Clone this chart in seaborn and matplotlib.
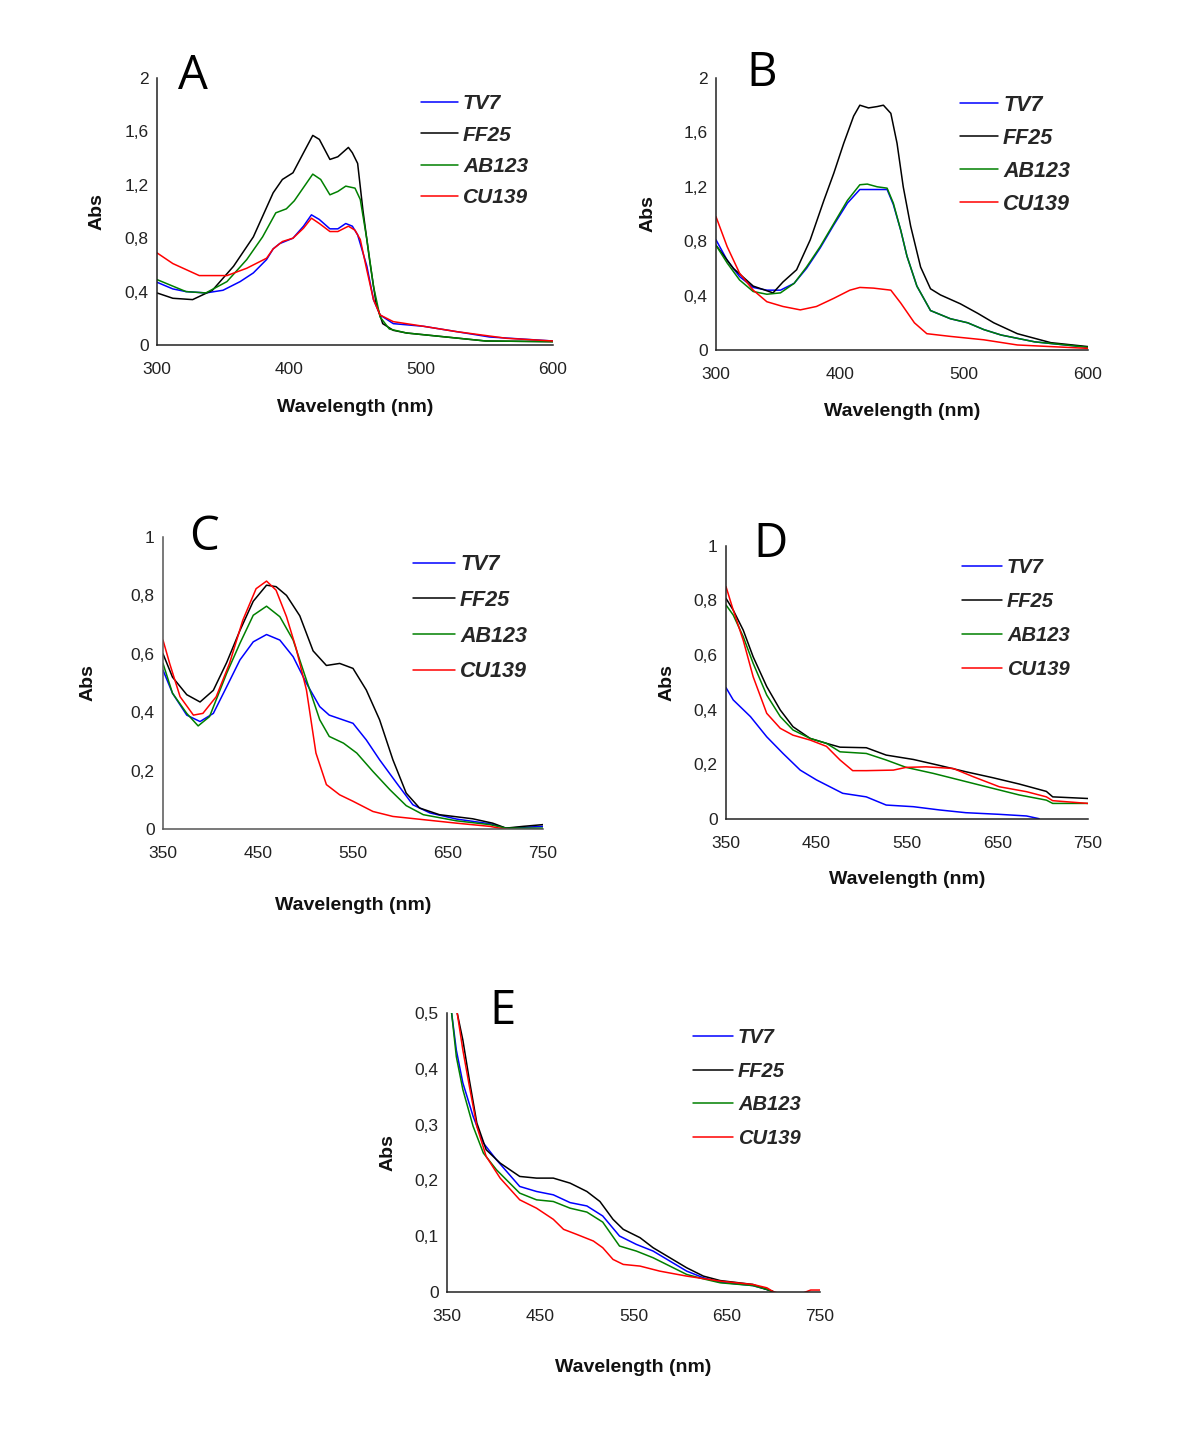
import numpy as np
import pandas as pd
import matplotlib
matplotlib.use("Agg")
import matplotlib.pyplot as plt
from matplotlib.ticker import FuncFormatter
import seaborn as sns

sns.set_style("white")
plt.rcParams['font.family'] = ['Liberation Sans', 'DejaVu Sans']

series_names = ["TV7", "FF25", "AB123", "CU139"]
series_colors = ["#0000ff", "#000000", "#008000", "#ff0000"]

# ---------------- Panel A ----------------
A_TV7_wl = [300, 312, 322, 337, 350, 363, 373, 383, 388, 393, 403, 411, 417, 423, 431, 437, 443, 448, 452, 459, 464, 469, 479, 502, 527, 552, 600]
A_TV7 = [0.47, 0.42, 0.40, 0.39, 0.41, 0.475, 0.54, 0.64, 0.72, 0.76, 0.80, 0.89, 0.975, 0.94, 0.87, 0.87, 0.91, 0.89, 0.825, 0.59, 0.34, 0.225, 0.16, 0.14, 0.10, 0.06, 0.03]
A_FF25_wl = [300, 312, 327, 342, 358, 373, 388, 395, 403, 411, 418, 423, 431, 437, 445, 448, 452, 456, 461, 466, 471, 479, 489, 519, 549, 600]
A_FF25 = [0.39, 0.35, 0.34, 0.41, 0.59, 0.81, 1.14, 1.24, 1.29, 1.44, 1.57, 1.54, 1.39, 1.41, 1.48, 1.44, 1.36, 1.01, 0.64, 0.31, 0.16, 0.11, 0.09, 0.06, 0.03, 0.025]
A_AB123_wl = [300, 322, 337, 353, 368, 380, 390, 398, 404, 418, 424, 431, 437, 443, 450, 454, 459, 464, 469, 476, 489, 519, 549, 600]
A_AB123 = [0.49, 0.40, 0.39, 0.475, 0.64, 0.81, 0.99, 1.02, 1.08, 1.28, 1.24, 1.125, 1.15, 1.19, 1.175, 1.09, 0.79, 0.44, 0.21, 0.12, 0.09, 0.06, 0.03, 0.025]
A_CU139_wl = [300, 312, 332, 353, 368, 383, 388, 395, 403, 411, 417, 423, 431, 437, 445, 450, 454, 459, 464, 469, 479, 502, 527, 565, 600]
A_CU139 = [0.69, 0.61, 0.52, 0.52, 0.575, 0.65, 0.72, 0.775, 0.80, 0.875, 0.95, 0.91, 0.85, 0.85, 0.89, 0.86, 0.79, 0.56, 0.34, 0.225, 0.175, 0.14, 0.10, 0.05, 0.03]

# ---------------- Panel B ----------------
B_TV7_wl = [300, 309, 319, 330, 341, 352, 363, 373, 384, 395, 406, 416, 422, 430, 438, 443, 449, 454, 462, 473, 489, 503, 516, 530, 557, 584, 600]
B_TV7 = [0.81, 0.66, 0.54, 0.46, 0.44, 0.44, 0.49, 0.60, 0.75, 0.92, 1.08, 1.18, 1.18, 1.18, 1.18, 1.07, 0.88, 0.69, 0.47, 0.29, 0.23, 0.20, 0.15, 0.11, 0.06, 0.035, 0.02]
B_FF25_wl = [300, 314, 330, 346, 354, 365, 376, 387, 395, 403, 411, 416, 423, 430, 435, 441, 446, 451, 457, 465, 473, 481, 497, 511, 524, 543, 570, 600]
B_FF25 = [0.77, 0.60, 0.47, 0.42, 0.50, 0.59, 0.81, 1.10, 1.30, 1.52, 1.72, 1.80, 1.78, 1.79, 1.80, 1.74, 1.52, 1.20, 0.91, 0.61, 0.45, 0.405, 0.34, 0.27, 0.20, 0.12, 0.054, 0.025]
B_AB123_wl = [300, 309, 319, 330, 341, 352, 363, 373, 384, 395, 406, 416, 422, 430, 438, 443, 449, 454, 462, 473, 489, 503, 516, 530, 557, 584, 600]
B_AB123 = [0.77, 0.64, 0.515, 0.43, 0.41, 0.42, 0.49, 0.61, 0.76, 0.93, 1.10, 1.215, 1.22, 1.20, 1.19, 1.08, 0.88, 0.69, 0.47, 0.29, 0.23, 0.20, 0.15, 0.11, 0.06, 0.035, 0.02]
B_CU139_wl = [300, 309, 319, 330, 341, 354, 368, 381, 395, 408, 416, 427, 441, 449, 460, 470, 489, 516, 543, 570, 600]
B_CU139 = [0.98, 0.76, 0.565, 0.44, 0.355, 0.32, 0.295, 0.32, 0.38, 0.44, 0.46, 0.455, 0.44, 0.345, 0.20, 0.12, 0.10, 0.075, 0.037, 0.025, 0.012]

# ---------------- Panel C ----------------
C_TV7_wl = [350, 360, 375, 389, 403, 417, 431, 445, 459, 473, 487, 501, 515, 525, 550, 564, 578, 596, 613, 631, 659, 694, 711, 750]
C_TV7 = [0.544, 0.465, 0.39, 0.368, 0.396, 0.487, 0.579, 0.641, 0.666, 0.647, 0.59, 0.499, 0.419, 0.39, 0.362, 0.305, 0.237, 0.157, 0.083, 0.055, 0.034, 0.018, 0.003, 0.009]
C_FF25_wl = [350, 360, 375, 389, 403, 417, 431, 445, 459, 469, 480, 494, 508, 522, 536, 550, 564, 578, 592, 606, 620, 641, 676, 697, 711, 729, 750]
C_FF25 = [0.60, 0.52, 0.46, 0.435, 0.475, 0.57, 0.68, 0.78, 0.835, 0.83, 0.80, 0.73, 0.61, 0.56, 0.567, 0.55, 0.476, 0.374, 0.237, 0.123, 0.072, 0.049, 0.035, 0.02, 0.003, 0.009, 0.015]
C_AB123_wl = [350, 360, 375, 387, 399, 417, 431, 445, 459, 473, 487, 501, 515, 525, 540, 554, 571, 589, 606, 624, 659, 694, 711, 750]
C_AB123 = [0.567, 0.465, 0.396, 0.353, 0.385, 0.533, 0.636, 0.732, 0.763, 0.727, 0.647, 0.51, 0.374, 0.317, 0.294, 0.26, 0.197, 0.134, 0.08, 0.049, 0.028, 0.015, 0.003, 0.003]
C_CU139_wl = [350, 357, 368, 382, 392, 406, 420, 434, 448, 459, 469, 480, 490, 501, 511, 522, 536, 550, 571, 592, 624, 659, 694, 704, 730, 750]
C_CU139 = [0.647, 0.567, 0.453, 0.39, 0.396, 0.453, 0.567, 0.715, 0.823, 0.849, 0.818, 0.727, 0.62, 0.476, 0.26, 0.152, 0.117, 0.095, 0.06, 0.043, 0.032, 0.02, 0.009, 0.003, -0.01, -0.01]

# ---------------- Panel D ----------------
D_TV7_wl = [350, 358, 377, 395, 413, 432, 450, 479, 505, 527, 557, 586, 615, 652, 682, 696]
D_TV7 = [0.48, 0.435, 0.374, 0.30, 0.239, 0.178, 0.142, 0.093, 0.08, 0.05, 0.044, 0.032, 0.022, 0.016, 0.01, 0.0]
D_FF25_wl = [350, 358, 369, 380, 395, 410, 424, 443, 461, 476, 505, 527, 557, 586, 615, 645, 674, 704, 711, 750]
D_FF25 = [0.807, 0.764, 0.691, 0.593, 0.484, 0.398, 0.337, 0.294, 0.276, 0.262, 0.26, 0.233, 0.217, 0.195, 0.172, 0.15, 0.127, 0.10, 0.08, 0.074]
D_AB123_wl = [350, 358, 369, 380, 395, 410, 424, 443, 461, 476, 505, 527, 549, 579, 615, 645, 674, 704, 711, 750]
D_AB123 = [0.783, 0.746, 0.667, 0.569, 0.453, 0.374, 0.325, 0.294, 0.276, 0.245, 0.239, 0.215, 0.188, 0.166, 0.136, 0.111, 0.087, 0.068, 0.056, 0.056]
D_CU139_wl = [350, 358, 369, 380, 395, 410, 424, 443, 461, 476, 490, 505, 535, 549, 571, 601, 623, 652, 682, 704, 711, 750]
D_CU139 = [0.85, 0.764, 0.654, 0.52, 0.386, 0.331, 0.306, 0.288, 0.265, 0.215, 0.176, 0.176, 0.178, 0.188, 0.19, 0.184, 0.154, 0.117, 0.099, 0.08, 0.066, 0.056]

# ---------------- Panel E ----------------
E_TV7_wl = [350, 355, 360, 367, 378, 389, 403, 428, 446, 464, 482, 500, 517, 535, 553, 571, 589, 607, 625, 643, 678, 693, 700]
E_TV7 = [0.56, 0.50, 0.434, 0.375, 0.315, 0.267, 0.237, 0.189, 0.18, 0.174, 0.16, 0.154, 0.136, 0.10, 0.085, 0.073, 0.055, 0.037, 0.025, 0.017, 0.011, 0.004, 0.0]
E_FF25_wl = [356, 361, 367, 374, 382, 392, 407, 428, 446, 464, 482, 500, 514, 528, 539, 557, 571, 589, 607, 625, 643, 678, 693, 700]
E_FF25 = [0.58, 0.50, 0.452, 0.38, 0.303, 0.255, 0.231, 0.207, 0.204, 0.204, 0.195, 0.18, 0.162, 0.13, 0.112, 0.097, 0.079, 0.061, 0.043, 0.028, 0.02, 0.013, 0.004, 0.0]
E_AB123_wl = [350, 355, 360, 367, 378, 389, 403, 428, 446, 464, 482, 500, 517, 535, 553, 571, 589, 607, 625, 643, 678, 693, 700]
E_AB123 = [0.56, 0.50, 0.422, 0.363, 0.297, 0.249, 0.219, 0.177, 0.165, 0.162, 0.15, 0.143, 0.125, 0.082, 0.073, 0.061, 0.046, 0.031, 0.023, 0.016, 0.011, 0.004, 0.0]
E_CU139_wl = [355, 361, 367, 374, 382, 392, 407, 428, 446, 464, 475, 489, 507, 517, 528, 539, 557, 578, 607, 643, 678, 693, 700, 720, 740, 750]
E_CU139 = [0.58, 0.50, 0.434, 0.369, 0.297, 0.243, 0.204, 0.165, 0.15, 0.13, 0.112, 0.103, 0.091, 0.079, 0.058, 0.049, 0.046, 0.037, 0.028, 0.019, 0.013, 0.007, 0.0, -0.01, 0.003, 0.003]

panels = {
    "A": [(A_TV7_wl, A_TV7), (A_FF25_wl, A_FF25), (A_AB123_wl, A_AB123), (A_CU139_wl, A_CU139)],
    "B": [(B_TV7_wl, B_TV7), (B_FF25_wl, B_FF25), (B_AB123_wl, B_AB123), (B_CU139_wl, B_CU139)],
    "C": [(C_TV7_wl, C_TV7), (C_FF25_wl, C_FF25), (C_AB123_wl, C_AB123), (C_CU139_wl, C_CU139)],
    "D": [(D_TV7_wl, D_TV7), (D_FF25_wl, D_FF25), (D_AB123_wl, D_AB123), (D_CU139_wl, D_CU139)],
    "E": [(E_TV7_wl, E_TV7), (E_FF25_wl, E_FF25), (E_AB123_wl, E_AB123), (E_CU139_wl, E_CU139)],
}

W, H = 1200, 1442
# layout in pixels: left, top, right, bottom
layout = {
    "A": dict(box=(157, 78, 553, 345), xlim=(300, 600), xt=[300, 400, 500, 600], ylim=(0, 2), yt=[0, 0.4, 0.8, 1.2, 1.6, 2],
              xlab_y=408, ylab_x=97, letter=(193, 76), leg=(421, 103.5, 30.9, 37, 15), spine="#222222"),
    "B": dict(box=(716, 78, 1088, 350), xlim=(300, 600), xt=[300, 400, 500, 600], ylim=(0, 2), yt=[0, 0.4, 0.8, 1.2, 1.6, 2],
              xlab_y=412, ylab_x=648, letter=(762, 73), leg=(960, 104.3, 31.2, 38, 15.5), spine="#222222"),
    "C": dict(box=(163, 537, 543, 829), xlim=(350, 750), xt=[350, 450, 550, 650, 750], ylim=(0, 1), yt=[0, 0.2, 0.4, 0.6, 0.8, 1],
              xlab_y=905, ylab_x=88, letter=(204, 537), leg=(413, 564, 33.7, 42, 15.5), spine="#555555"),
    "D": dict(box=(726, 545.7, 1088, 818.7), xlim=(350, 750), xt=[350, 450, 550, 650, 750], ylim=(0, 1), yt=[0, 0.2, 0.4, 0.6, 0.8, 1],
              xlab_y=880, ylab_x=667, letter=(771, 544), leg=(962, 567, 32.9, 40, 14.5), spine="#222222"),
    "E": dict(box=(447, 1013.3, 820, 1291.7), xlim=(350, 750), xt=[350, 450, 550, 650, 750], ylim=(0, 0.5), yt=[0, 0.1, 0.2, 0.3, 0.4, 0.5],
              xlab_y=1368, ylab_x=388, letter=(502, 1011), leg=(693, 1037, 32.5, 40, 14.5), spine="#222222"),
}

fig = plt.figure(figsize=(W / 100, H / 100), dpi=100)
fmt = FuncFormatter(lambda v, p: f"{v:g}".replace(".", ","))

for key, series in panels.items():
    L = layout[key]
    l, t, r, b = L["box"]
    ax = fig.add_axes([l / W, 1 - b / H, (r - l) / W, (b - t) / H])
    frames = []
    for name, (wl, val) in zip(series_names, series):
        frames.append(pd.DataFrame({"Wavelength": wl, "Abs": val, "Sample": name}))
    df = pd.concat(frames, ignore_index=True)
    sns.lineplot(data=df, x="Wavelength", y="Abs", hue="Sample", hue_order=series_names,
                 palette=series_colors, estimator=None, sort=False, linewidth=1.1, ax=ax)
    ax.set_xlim(*L["xlim"])
    ax.set_ylim(*L["ylim"])
    ax.set_xticks(L["xt"])
    ax.set_yticks(L["yt"])
    ax.xaxis.set_major_formatter(fmt)
    ax.yaxis.set_major_formatter(fmt)
    for s in ["top", "right"]:
        ax.spines[s].set_visible(False)
    for s in ["left", "bottom"]:
        ax.spines[s].set_color(L["spine"])
        ax.spines[s].set_linewidth(1.1)
    ax.tick_params(axis="both", direction="out", length=4, width=1.0, color=L["spine"],
                   labelsize=12.5, labelcolor="#222222")
    ax.tick_params(axis="y", pad=2)
    ax.tick_params(axis="x", pad=8.5)
    ax.set_xlabel("Wavelength (nm)", fontsize=14, fontweight="bold", color="#111111")
    ax.set_ylabel("Abs", fontsize=14, fontweight="bold", color="#111111")
    ax.xaxis.set_label_coords(((l + r) / 2 - l) / (r - l), (b - L["xlab_y"]) / (b - t))
    ax.xaxis.label.set_verticalalignment("center")
    ax.yaxis.set_label_coords((L["ylab_x"] - l) / (r - l), 0.5)
    ax.yaxis.label.set_verticalalignment("center")
    ax.grid(False)
    # panel letter
    lx, ly = L["letter"]
    fig.text(lx / W, 1 - ly / H, key, fontsize=34, family=["Open Sans", "DejaVu Sans"],
             ha="center", va="center", color="black")
    # legend
    gx, gy, gsp, ghl, leg_fs = L["leg"]
    leg_px = leg_fs * 100 / 72
    row_h = leg_px * 0.89
    handles, labels = ax.get_legend_handles_labels()
    ax.legend(handles, labels, loc="upper left", frameon=False,
              bbox_to_anchor=(gx / W, 1 - (gy - row_h / 2) / H), bbox_transform=fig.transFigure,
              borderpad=0, borderaxespad=0, handlelength=ghl / leg_px, handletextpad=5 / leg_px,
              labelspacing=(gsp - row_h) / leg_px,
              prop=dict(family="Liberation Sans", weight="bold", style="italic", size=leg_fs))

fig.savefig("out.png", dpi=100)
